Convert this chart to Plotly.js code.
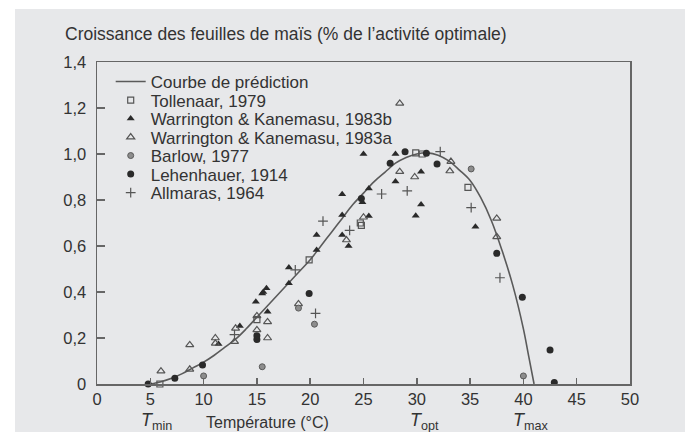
<!DOCTYPE html>
<html>
<head>
<meta charset="utf-8">
<script src="https://cdn.plot.ly/plotly-3.0.1.min.js"></script>
<style>html,body{margin:0;padding:0;background:#fff;}#chart{width:685px;height:432px;}</style>
</head>
<body>
<div id="chart"></div>
<script>
// Prediction curve
const curveX = [5, 6, 7, 8, 9, 10, 11, 12, 13, 14, 15, 16, 17, 18, 19, 20, 21, 22, 23, 24, 25, 26, 27, 28, 29, 30, 31, 32, 33, 34, 35, 36, 37, 38, 39, 40, 40.5, 41];
const curveY = [0, 0.01, 0.025, 0.045, 0.07, 0.095, 0.125, 0.16, 0.195, 0.24, 0.29, 0.34, 0.39, 0.44, 0.49, 0.54, 0.60, 0.66, 0.72, 0.78, 0.83, 0.88, 0.92, 0.96, 0.985, 1.0, 1.005, 0.995, 0.97, 0.93, 0.885, 0.81, 0.71, 0.58, 0.43, 0.24, 0.12, 0];

// Tollenaar, 1979
const tolX = [5.9, 15.0, 19.9, 24.7, 24.8, 29.9, 30.5, 34.8];
const tolY = [0.0, 0.28, 0.54, 0.70, 0.69, 1.005, 1.0, 0.855];

// Warrington & Kanemasu, 1983b
const wkbX = [11.4, 13.4, 14.9, 15.5, 15.6, 15.9, 16.0, 18.0, 18.0, 20.6, 20.6, 23.0, 23.0, 23.0, 23.6, 25.0, 24.9, 25.5, 25.5, 28.0, 28.0, 30.4, 30.4, 29.9, 35.5];
const wkbY = [0.174, 0.252, 0.358, 0.394, 0.40, 0.416, 0.314, 0.507, 0.438, 0.648, 0.583, 0.825, 0.735, 0.648, 0.60, 1.0, 0.79, 0.85, 0.73, 1.0, 0.88, 0.923, 0.78, 0.732, 0.684];

// Warrington & Kanemasu, 1983a
const wkaX = [6.0, 8.7, 8.7, 11.1, 11.1, 12.9, 13.0, 15.0, 15.0, 16.0, 16.0, 18.9, 23.4, 25.0, 28.4, 28.4, 29.8, 33.2, 33.1, 37.5, 37.5];
const wkaY = [0.056, 0.17, 0.064, 0.20, 0.177, 0.184, 0.242, 0.296, 0.235, 0.27, 0.20, 0.348, 0.626, 0.725, 1.22, 0.923, 0.90, 0.967, 0.926, 0.72, 0.64];

// Barlow, 1977
const barX = [10.0, 15.5, 18.9, 20.4, 35.1, 40.0];
const barY = [0.035, 0.075, 0.33, 0.26, 0.935, 0.035];

// Lehenhauer, 1914
const lehX = [4.8, 7.3, 9.9, 15.0, 15.0, 19.9, 24.8, 27.5, 28.9, 30.9, 31.9, 37.5, 39.9, 42.5, 42.9];
const lehY = [0.0, 0.025, 0.083, 0.194, 0.21, 0.394, 0.807, 0.96, 1.01, 1.003, 0.957, 0.568, 0.377, 0.148, 0.006];

// Allmaras, 1964
const allX = [12.9, 18.6, 20.5, 21.2, 23.7, 26.7, 29.1, 32.2, 35.1, 37.8];
const allY = [0.215, 0.496, 0.307, 0.708, 0.668, 0.826, 0.84, 1.01, 0.767, 0.462];

// Axis ticks
const yTickVals = [0, 0.2, 0.4, 0.6, 0.8, 1.0, 1.2, 1.4];
const yTickText = ['0', '0,2', '0,4', '0,6', '0,8', '1,0', '1,2', '1,4'];
const xTickVals = [0, 5, 10, 15, 20, 25, 30, 35, 40, 45, 50];

const dark = '#2a2a2a';
const mid = '#555555';
const font = 'Liberation Sans, Arial, sans-serif';

const traces = [
  {x: curveX, y: curveY, mode: 'lines', name: 'Courbe de prédiction', legend: 'legend', line: {color: '#5a5a5a', width: 1.6, shape: 'spline', smoothing: 1.0}},
  {x: tolX, y: tolY, mode: 'markers', name: 'Tollenaar, 1979', legend: 'legend2', cliponaxis: false, marker: {symbol: 'square-open', size: 6, color: mid, line: {width: 1.2}}},
  {x: wkbX, y: wkbY, mode: 'markers', name: 'Warrington & Kanemasu, 1983b', legend: 'legend3', cliponaxis: false, marker: {symbol: 'triangle-up', size: 7, color: dark}},
  {x: wkaX, y: wkaY, mode: 'markers', name: 'Warrington & Kanemasu, 1983a', legend: 'legend4', cliponaxis: false, marker: {symbol: 'triangle-up-open', size: 7, color: mid, line: {width: 1.2}}},
  {x: barX, y: barY, mode: 'markers', name: 'Barlow, 1977', legend: 'legend5', cliponaxis: false, marker: {symbol: 'circle', size: 6, color: '#8d8d8d', line: {color: '#5a5a5a', width: 1}}},
  {x: lehX, y: lehY, mode: 'markers', name: 'Lehenhauer, 1914', legend: 'legend6', cliponaxis: false, marker: {symbol: 'circle', size: 7, color: dark}},
  {x: allX, y: allY, mode: 'markers', name: 'Allmaras, 1964', legend: 'legend7', cliponaxis: false, marker: {symbol: 'cross-thin-open', size: 7, color: mid, line: {width: 1.2, color: mid}}}
];

// one legend box per entry so the rows can sit as tightly as in the reference
const legendRowPx = [82, 100.5, 119, 137.5, 156, 174.5, 193];
function legendAt(px) {
  return {x: 0.0257, y: (384 - px) / 322, xanchor: 'left', yanchor: 'middle', bgcolor: 'rgba(0,0,0,0)', borderwidth: 0,
          font: {family: font, size: 17, color: '#333333'}};
}

const layout = {
  width: 685, height: 432,
  margin: {l: 97, r: 55, t: 62, b: 48},
  paper_bgcolor: '#ffffff',
  plot_bgcolor: 'rgba(0,0,0,0)',
  font: {family: font, size: 16, color: '#333333'},
  showlegend: true,
  legend: legendAt(legendRowPx[0]),
  legend2: legendAt(legendRowPx[1]),
  legend3: legendAt(legendRowPx[2]),
  legend4: legendAt(legendRowPx[3]),
  legend5: legendAt(legendRowPx[4]),
  legend6: legendAt(legendRowPx[5]),
  legend7: legendAt(legendRowPx[6]),
  xaxis: {range: [0, 50], tickvals: xTickVals, ticks: 'inside', ticklen: 6, tickwidth: 1.5, tickcolor: '#666', showline: true, linecolor: '#666', linewidth: 1.5, mirror: true, showgrid: false, zeroline: false, tickfont: {size: 16.5, color: '#333'}},
  yaxis: {range: [0, 1.4], tickvals: yTickVals, ticktext: yTickText, ticks: 'inside', ticklen: 8, tickwidth: 1.5, tickcolor: '#666', showline: true, linecolor: '#666', linewidth: 1.5, mirror: true, showgrid: false, zeroline: false, ticklabelstandoff: 6, tickfont: {size: 16.5, color: '#333'}},
  shapes: [
    {type: 'rect', xref: 'paper', yref: 'paper', x0: -0.1538, x1: 1.2, y0: -0.2, y1: 1.1646, fillcolor: '#e7e8ea', line: {width: 0}, layer: 'below'}
  ],
  annotations: [
    {xref: 'paper', yref: 'paper', x: -0.0638, y: 1.087, xanchor: 'left', yanchor: 'middle', showarrow: false, text: 'Croissance des feuilles de maïs (% de l’activité optimale)', font: {size: 17.5, color: '#333'}},
    {xref: 'x', yref: 'paper', x: 5.6, y: -0.118, xanchor: 'center', yanchor: 'middle', showarrow: false, text: '<i>T</i><sub>min</sub>', font: {size: 18, color: '#333'}},
    {xref: 'x', yref: 'paper', x: 16.0, y: -0.12, xanchor: 'center', yanchor: 'middle', showarrow: false, text: 'Température (°C)', font: {size: 16, color: '#333'}},
    {xref: 'x', yref: 'paper', x: 30.7, y: -0.118, xanchor: 'center', yanchor: 'middle', showarrow: false, text: '<i>T</i><sub>opt</sub>', font: {size: 18, color: '#333'}},
    {xref: 'x', yref: 'paper', x: 40.7, y: -0.118, xanchor: 'center', yanchor: 'middle', showarrow: false, text: '<i>T</i><sub>max</sub>', font: {size: 18, color: '#333'}}
  ]
};

Plotly.newPlot('chart', traces, layout, {displayModeBar: false, staticPlot: true});
</script>
</body>
</html>
